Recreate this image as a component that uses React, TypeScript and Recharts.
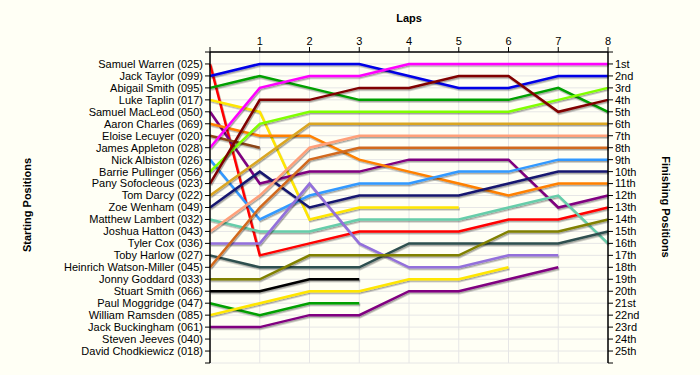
import React from 'react';
import { LineChart, Line, XAxis, YAxis, CartesianGrid } from 'recharts';

const laps = [0, 1, 2, 3, 4, 5, 6, 7, 8];

const startNames = [
  'Samuel Warren (025)', 'Jack Taylor (099)', 'Abigail Smith (095)', 'Luke Taplin (017)',
  'Samuel MacLeod (050)', 'Aaron Charles (069)', 'Eloise Lecuyer (020)', 'James Appleton (028)',
  'Nick Albiston (026)', 'Barrie Pullinger (056)', 'Pany Sofocleous (023)', 'Tom Darcy (022)',
  'Zoe Wenham (049)', 'Matthew Lambert (032)', 'Joshua Hatton (043)', 'Tyler Cox (036)',
  'Toby Harlow (027)', 'Heinrich Watson-Miller (045)', 'Jonny Goddard (033)', 'Stuart Smith (066)',
  'Paul Moggridge (047)', 'William Ramsden (085)', 'Jack Buckingham (061)', 'Steven Jeeves (040)',
  'David Chodkiewicz (018)',
];

const finishLabels = [
  '1st', '2nd', '3rd', '4th', '5th', '6th', '7th', '8th', '9th', '10th', '11th', '12th', '13th',
  '14th', '15th', '16th', '17th', '18th', '19th', '20th', '21st', '22nd', '23rd', '24th', '25th',
];

const samuelWarren = [1, 17, 16, 15, 15, 15, 14, 14, 13];
const jackTaylor = [2, 1, 1, 1, 2, 3, 3, 2, 2];
const abigailSmith = [3, 2, 3, 4, 4, 4, 4, 3, 5];
const lukeTaplin = [4, 5, 14, 13, 13, 13, null, null, null];
const samuelMacLeod = [5, 11, 10, 10, 9, 9, 9, 13, 12];
const aaronCharles = [6, 7, 7, 9, 10, 11, 12, 11, 11];
const eloiseLecuyer = [7, 8, null, null, null, null, null, null, null];
const jamesAppleton = [8, 3, 2, 2, 1, 1, 1, 1, 1];
const nickAlbiston = [9, 14, 12, 11, 11, 10, 10, 9, 9];
const barriePullinger = [10, 6, 5, 5, 5, 5, 5, 4, 3];
const panySofocleous = [11, 4, 4, 3, 3, 2, 2, 5, 4];
const tomDarcy = [12, 9, 6, 6, 6, 6, 6, 6, 6];
const zoeWenham = [13, 10, 13, 12, 12, 12, 11, 10, 10];
const matthewLambert = [14, 15, 15, 14, 14, 14, 13, 12, 16];
const joshuaHatton = [15, 12, 8, 7, 7, 7, 7, 7, 7];
const tylerCox = [16, 16, 11, 16, 18, 18, 17, 17, null];
const tobyHarlow = [17, 18, 18, 18, 16, 16, 16, 16, 15];
const heinrichWatsonMiller = [18, 13, 9, 8, 8, 8, 8, 8, 8];
const jonnyGoddard = [19, 19, 17, 17, 17, 17, 15, 15, 14];
const stuartSmith = [20, 20, 19, 19, null, null, null, null, null];
const paulMoggridge = [21, 22, 21, 21, null, null, null, null, null];
const williamRamsden = [22, 21, 20, 20, 19, 19, 18, null, null];
const jackBuckingham = [23, 23, 22, 22, 20, 20, 19, 18, null];

const drivers = [
  { key: 'samuelWarren', values: samuelWarren, color: '#FF0000' },
  { key: 'jackTaylor', values: jackTaylor, color: '#0000E6' },
  { key: 'abigailSmith', values: abigailSmith, color: '#00A000' },
  { key: 'lukeTaplin', values: lukeTaplin, color: '#FFE600' },
  { key: 'samuelMacLeod', values: samuelMacLeod, color: '#800080' },
  { key: 'aaronCharles', values: aaronCharles, color: '#FF8000' },
  { key: 'eloiseLecuyer', values: eloiseLecuyer, color: '#8B4513' },
  { key: 'jamesAppleton', values: jamesAppleton, color: '#FF00FF' },
  { key: 'nickAlbiston', values: nickAlbiston, color: '#3399FF' },
  { key: 'barriePullinger', values: barriePullinger, color: '#80FF00' },
  { key: 'panySofocleous', values: panySofocleous, color: '#800000' },
  { key: 'tomDarcy', values: tomDarcy, color: '#DAA520' },
  { key: 'zoeWenham', values: zoeWenham, color: '#191970' },
  { key: 'matthewLambert', values: matthewLambert, color: '#66CDAA' },
  { key: 'joshuaHatton', values: joshuaHatton, color: '#FFA07A' },
  { key: 'tylerCox', values: tylerCox, color: '#9370DB' },
  { key: 'tobyHarlow', values: tobyHarlow, color: '#2F4F4F' },
  { key: 'heinrichWatsonMiller', values: heinrichWatsonMiller, color: '#D2691E' },
  { key: 'jonnyGoddard', values: jonnyGoddard, color: '#808000' },
  { key: 'stuartSmith', values: stuartSmith, color: '#000000' },
  { key: 'paulMoggridge', values: paulMoggridge, color: '#00A000' },
  { key: 'williamRamsden', values: williamRamsden, color: '#FFE600' },
  { key: 'jackBuckingham', values: jackBuckingham, color: '#800080' },
];

const rows = laps.map((lap, i) => {
  const row: Record<string, number | null> = { lap };
  drivers.forEach((d) => {
    row[d.key] = d.values[i];
  });
  return row;
});

const posTicks = Array.from({ length: 27 }, (_, i) => i);
const BG = '#FFFFF5';
const FONT = '"Liberation Sans", Arial, sans-serif';

export default function App() {
  const tickStyle = { fontSize: 11, fill: '#000', fontFamily: FONT };
  return (
    <div
      style={{
        position: 'absolute',
        left: 0,
        top: 0,
        width: 700,
        height: 375,
        background: BG,
        fontFamily: FONT,
        overflow: 'hidden',
      }}
    >
      <style>{`.lap-line .recharts-line-curve{filter:url(#lapShadow);}`}</style>
      <LineChart width={700} height={375} data={rows} margin={{ top: 22, right: 0, bottom: 12, left: 0 }}>
        <defs>
          <filter id="lapShadow" filterUnits="userSpaceOnUse" x="0" y="0" width="700" height="375">
            <feDropShadow dx="1" dy="1.5" stdDeviation="0.6" floodColor="#000" floodOpacity="0.35" />
          </filter>
        </defs>
        <CartesianGrid stroke="#E6E6E6" strokeWidth={1} yAxisId="left" />
        <XAxis
          dataKey="lap"
          type="number"
          orientation="top"
          domain={[0, 8]}
          ticks={laps}
          height={30}
          tickSize={5}
          tickMargin={2}
          interval={0}
          tickFormatter={(v: number) => (v === 0 ? '' : String(v))}
          tick={tickStyle}
          stroke="#000"
          axisLine={{ stroke: '#000', strokeWidth: 1.5 }}
          tickLine={{ stroke: '#000' }}
        />
        <YAxis
          yAxisId="left"
          type="number"
          domain={[0, 26]}
          reversed
          ticks={posTicks}
          interval={0}
          width={210}
          tickSize={5}
          tickMargin={2}
          tickFormatter={(v: number) => startNames[v - 1] ?? ''}
          tick={tickStyle}
          stroke="#000"
          axisLine={{ stroke: '#000', strokeWidth: 1.5 }}
          tickLine={{ stroke: '#000' }}
        />
        <YAxis
          yAxisId="right"
          orientation="right"
          type="number"
          domain={[0, 26]}
          reversed
          ticks={posTicks}
          interval={0}
          width={92}
          tickSize={5}
          tickMargin={2}
          tickFormatter={(v: number) => finishLabels[v - 1] ?? ''}
          tick={tickStyle}
          stroke="#000"
          axisLine={{ stroke: '#000', strokeWidth: 1.5 }}
          tickLine={{ stroke: '#000' }}
        />
        <Line
          yAxisId="right"
          dataKey="jamesAppleton"
          type="linear"
          stroke="none"
          strokeWidth={0}
          dot={false}
          activeDot={false}
          legendType="none"
          isAnimationActive={false}
        />
        {drivers.map((d) => (
          <Line
            key={d.key}
            className="lap-line"
            yAxisId="left"
            dataKey={d.key}
            type="linear"
            stroke={d.color}
            strokeWidth={2.5}
            dot={false}
            activeDot={false}
            connectNulls={false}
            isAnimationActive={false}
          />
        ))}
      </LineChart>
      <div
        style={{
          position: 'absolute',
          left: 409,
          top: 18,
          transform: 'translate(-50%, -50%)',
          fontSize: 11,
          fontWeight: 'bold',
          whiteSpace: 'nowrap',
          color: '#000',
        }}
      >
        Laps
      </div>
      <div
        style={{
          position: 'absolute',
          left: 27,
          top: 205,
          transform: 'translate(-50%, -50%) rotate(-90deg)',
          fontSize: 11,
          fontWeight: 'bold',
          whiteSpace: 'nowrap',
          color: '#000',
        }}
      >
        Starting Positions
      </div>
      <div
        style={{
          position: 'absolute',
          left: 666,
          top: 207,
          transform: 'translate(-50%, -50%) rotate(90deg)',
          fontSize: 11,
          fontWeight: 'bold',
          whiteSpace: 'nowrap',
          color: '#000',
        }}
      >
        Finishing Positions
      </div>
    </div>
  );
}
